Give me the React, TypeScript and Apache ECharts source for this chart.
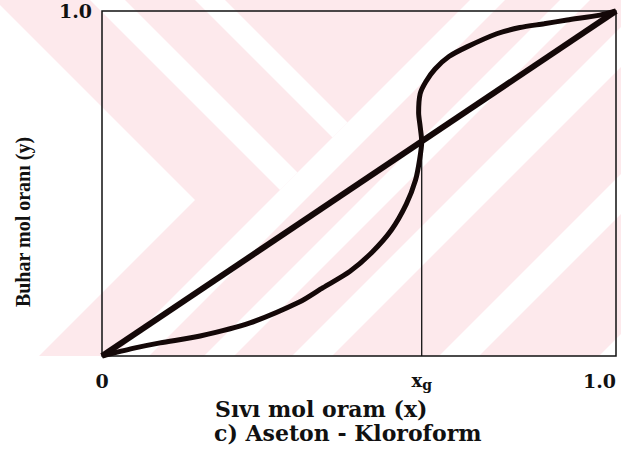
import React, { useEffect, useRef } from "react";
import * as echarts from "echarts";

// Data (mole fractions)
const XG = 0.622;
const curveX = [0, 0.06, 0.113, 0.191, 0.288, 0.385, 0.43, 0.482, 0.525, 0.563, 0.592, 0.61, 0.618, 0.622, 0.619, 0.616, 0.619, 0.63, 0.648, 0.675, 0.71, 0.768, 0.813, 0.86, 0.905, 0.969, 1];
const curveY = [0, 0.022, 0.038, 0.058, 0.096, 0.157, 0.198, 0.245, 0.3, 0.365, 0.44, 0.51, 0.57, 0.622, 0.665, 0.705, 0.76, 0.795, 0.832, 0.868, 0.896, 0.934, 0.952, 0.963, 0.974, 0.988, 1];
const diagX = [0, 1];
const diagY = [0, 1];
const xTickValues = [0, XG, 1];
const xTickLabels = ["0", "xg", "1.0"];
const yTickValues = [1];
const yTickLabels = ["1.0"];
const xName = "Sıvı mol oram (x)";
const yName = "Buhar mol oranı (y)";
const caption = "c) Aseton - Kloroform";

const PINK = "#fde9ec";
const BOTTOM = 356;
// watermark stripes (decoration)
const slashBands = [[470, 505], [560, 590], [648, 688], [795, 835], [955, 995]];
function slashPoly(c1: number, c2: number) {
  return [[c1, 0], [c2, 0], [c2 - BOTTOM, BOTTOM], [c1 - BOTTOM, BOTTOM]];
}
function backPoly(d1: number, d2: number, c: number) {
  return [[d1, 0], [d2, 0], [(c + d2) / 2, (c - d2) / 2], [(c + d1) / 2, (c - d1) / 2]];
}

export default function App() {
  const ref = useRef<HTMLDivElement>(null);
  useEffect(() => {
    if (!ref.current) return;
    const chart = echarts.init(ref.current, null, { renderer: "svg" });
    const white = { fill: "#ffffff" };
    const wm: any[] = [
      { type: "rect", shape: { x: 0, y: 0, width: 621, height: BOTTOM }, style: { fill: PINK }, z: -10, silent: true },
      ...slashBands.map((b) => ({ type: "polygon", shape: { points: slashPoly(b[0], b[1]) }, style: white, z: -9, silent: true })),
      { type: "polygon", shape: { points: backPoly(90, 125, 470) }, style: white, z: -9, silent: true },
      { type: "polygon", shape: { points: backPoly(195, 225, 470) }, style: white, z: -9, silent: true },
      { type: "polygon", shape: { points: [[0, 5], [195, 200], [39, BOTTOM], [0, BOTTOM]] }, style: white, z: -9, silent: true },
    ];
    const tf = "'DejaVu Serif', serif";
    chart.setOption({
      animation: false,
      backgroundColor: "#ffffff",
      grid: { left: 102, right: 5, top: 11, bottom: 93, show: true, borderColor: "#111", borderWidth: 1.5, backgroundColor: "transparent" },
      xAxis: {
        type: "value", min: 0, max: 1,
        axisLine: { show: false }, axisTick: { show: false }, splitLine: { show: false },
        axisLabel: {
          customValues: xTickValues, margin: 15, alignMaxLabel: "right",
          fontFamily: tf, fontWeight: "bold", fontSize: 19, color: "#111",
          formatter: (v: number) => {
            const i = xTickValues.findIndex((t) => Math.abs(t - v) < 1e-6);
            const s = i >= 0 ? xTickLabels[i] : "";
            return s === "xg" ? "{x|x}{g|g}" : s;
          },
          rich: {
            x: { fontFamily: tf, fontWeight: "bold", fontSize: 18, color: "#111", lineHeight: 21, verticalAlign: "top" },
            g: { fontFamily: tf, fontWeight: "bold", fontSize: 14, color: "#111", lineHeight: 21, verticalAlign: "bottom" },
          },
        },
      },
      yAxis: {
        type: "value", min: 0, max: 1,
        axisLine: { show: false }, axisTick: { show: false }, splitLine: { show: false },
        axisLabel: {
          customValues: yTickValues, margin: 10,
          fontFamily: tf, fontWeight: "bold", fontSize: 19, color: "#111",
          formatter: (v: number) => {
            const i = yTickValues.findIndex((t) => Math.abs(t - v) < 1e-6);
            return i >= 0 ? yTickLabels[i] : "";
          },
        },
      },
      graphic: [
        ...wm,
        { type: "text", x: 215, y: 409, style: { text: xName, fill: "#111", font: "bold 22px 'DejaVu Serif', serif", verticalAlign: "middle" } },
        { type: "text", x: 214, y: 433, style: { text: caption, fill: "#111", font: "bold 22px 'DejaVu Serif', serif", verticalAlign: "middle" } },
        { type: "text", x: 23, y: 222, rotation: Math.PI / 2, style: { text: yName, fill: "#111", font: "bold 20px 'Liberation Serif', serif", align: "center", verticalAlign: "middle" } },
      ],
      series: [
        {
          type: "line", name: "xg", data: [[XG, 0], [XG, XG]], symbol: "none",
          lineStyle: { color: "#111", width: 1.3 }, z: 3,
        },
        {
          type: "line", name: "y=x", data: diagX.map((x, i) => [x, diagY[i]]), symbol: "none",
          lineStyle: { color: "#140808", width: 6 }, z: 4,
        },
        {
          type: "line", name: "y-x", data: curveX.map((x, i) => [x, curveY[i]]), symbol: "none", smooth: 0.25,
          lineStyle: { color: "#140808", width: 5 }, z: 5,
        },
      ],
    });
    return () => chart.dispose();
  }, []);
  return <div ref={ref} style={{ position: "fixed", left: 0, top: 0, width: 621, height: 449 }} />;
}
